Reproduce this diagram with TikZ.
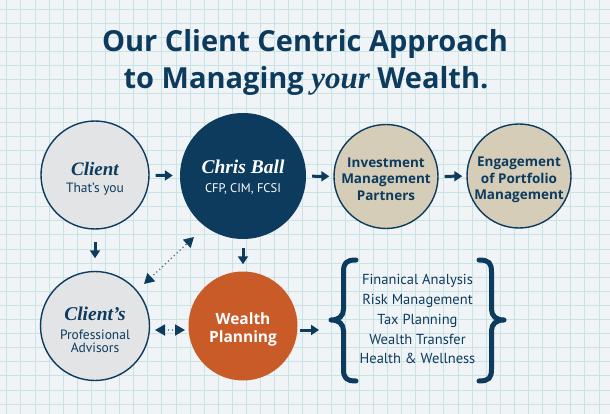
\documentclass[tikz,border=0pt]{standalone}
\usepackage{fontspec}
\setmainfont{PT Sans}
\newfontfamily\serifbi{Liberation Serif}
\newfontfamily\boldsans{Open Sans}
\usetikzlibrary{arrows.meta,calc}
\definecolor{navy}{HTML}{0D3B5E}
\definecolor{bgc}{HTML}{F1F4F6}
\definecolor{gridc}{HTML}{C8E3E4}
\definecolor{lgray}{HTML}{E3E4E5}
\definecolor{tanc}{HTML}{D5CDB7}
\definecolor{orng}{HTML}{C95B29}
\definecolor{dotc}{HTML}{56768C}
\tikzset{
  circ/.style={circle, inner sep=0pt, minimum size=#1},
  lightc/.style={circ=#1, draw=navy, line width=1.4pt, fill=lgray},
  tanball/.style={circ=#1, draw=navy, line width=1.4pt, fill=tanc},
  sertxt/.style={anchor=base, inner sep=0pt, font=\serifbi\bfseries\itshape\fontsize{#1}{#1}\selectfont},
  santxt/.style={anchor=base, inner sep=0pt, font=\fontsize{#1}{#1}\selectfont},
  boldtxt/.style={anchor=base, inner sep=0pt, font=\boldsans\bfseries\fontsize{#1}{#1}\selectfont},
  arr/.style={navy, line width=3pt, -{Triangle[length=8pt,width=10pt]}},
  dotarr/.style={dotc, line width=1.8pt, line cap=round, dash pattern=on 0pt off 4pt,
    {Triangle[length=10pt,width=11pt,color=navy]}-{Triangle[length=10pt,width=11pt,color=navy]}},
  bracestyle/.style={navy, line width=5pt, line cap=round, line join=round}
}
\begin{document}
\begin{tikzpicture}[x=1pt,y=-1pt]
\fill[bgc] (0,0) rectangle (610,414);
\useasboundingbox (0,0) rectangle (610,414);
\foreach \i in {0,...,43} \draw[gridc, line width=0.9pt] ({6.8+14.1*\i},0) -- ++(0,414);
\foreach \j in {0,...,29} \draw[gridc, line width=0.9pt] (0,{9.3+14.1*\j}) -- ++(610,0);

% title
\node[boldtxt=29, text=navy, anchor=base] (title1) at (305,51.5) {Our Client Centric Approach};
\node[boldtxt=29, text=navy, anchor=base] (title2) at (306,88.3) {to Managing {\serifbi\bfseries\itshape\fontsize{31}{31}\selectfont your} Wealth.};

% circles
\node[lightc=108] (client) at (95,175) {};
\node[circ=126, fill=navy] (chris) at (243,176) {};
\node[tanball=104] (inv) at (386,176.5) {};
\node[tanball=104] (eng) at (519,176) {};
\node[lightc=109] (adv) at (95,326) {};
\node[circ=109, fill=orng] (wp) at (243,326) {};

% texts
\node[sertxt=19, text=navy] (clientA) at ($(client)+(0,1)$) {Client};
\node[santxt=13.5, text=navy] (clientB) at ($(client)+(0,18)$) {That’s you};
\node[sertxt=19.5, text=white] (chrisA) at ($(chris)+(0,-2.7)$) {Chris Ball};
\node[santxt=12.5, text=white] (chrisB) at ($(chris)+(0,16.7)$) {CFP, CIM, FCSI};
\node[boldtxt=13.5, text=navy] (invA) at ($(inv)+(0,-9.2)$) {Investment};
\node[boldtxt=13.5, text=navy] (invB) at ($(inv)+(0,7.5)$) {Management};
\node[boldtxt=13.5, text=navy] (invC) at ($(inv)+(0,24.2)$) {Partners};
\node[boldtxt=13.5, text=navy] (engA) at ($(eng)+(0,-9.3)$) {Engagement};
\node[boldtxt=13.5, text=navy] (engB) at ($(eng)+(0,7.3)$) {of Portfolio};
\node[boldtxt=13.5, text=navy] (engC) at ($(eng)+(0,24)$) {Management};
\node[sertxt=19.5, text=navy] (advA) at ($(adv)+(0,-5.3)$) {Client’s};
\node[santxt=13.5, text=navy] (advB) at ($(adv)+(0,13.3)$) {Professional};
\node[santxt=13.5, text=navy] (advC) at ($(adv)+(0,26.7)$) {Advisors};
\node[boldtxt=15.5, text=white] (wpA) at ($(wp)+(0,-2)$) {Wealth};
\node[boldtxt=15.5, text=white] (wpB) at ($(wp)+(0,16.7)$) {Planning};

% list
\node[santxt=14.5, text=navy] (l1) at (417.5,284.3) {Finanical Analysis};
\node[santxt=14.5, text=navy] (l2) at (417.5,304.2) {Risk Management};
\node[santxt=14.5, text=navy] (l3) at (417.5,324.1) {Tax Planning};
\node[santxt=14.5, text=navy] (l4) at (417.5,344) {Wealth Transfer};
\node[santxt=14.5, text=navy] (l5) at (417.5,363.6) {Health \& Wellness};

% braces
\draw[bracestyle] (356,260) .. controls (346,260) and (343.5,263) .. (343.5,272)
  -- (343.5,309) .. controls (343.5,316) and (339,320) .. (331,320)
  .. controls (339,320) and (343.5,324) .. (343.5,331)
  -- (343.5,369) .. controls (343.5,378) and (346,381) .. (356,381);
\draw[bracestyle] (479,260) .. controls (489,260) and (491.5,263) .. (491.5,272)
  -- (491.5,309) .. controls (491.5,316) and (496,320) .. (504,320)
  .. controls (496,320) and (491.5,324) .. (491.5,331)
  -- (491.5,369) .. controls (491.5,378) and (489,381) .. (479,381);
\coordinate (bracein) at (319,330);

% arrows
\draw[arr, shorten <=6pt, shorten >=7pt] (client) -- (chris);
\draw[arr, shorten <=6pt, shorten >=4pt] (chris) -- (inv);
\draw[arr, shorten <=6pt, shorten >=4pt] (inv) -- (eng);
\draw[arr, shorten <=12.5pt, shorten >=12.5pt] (client) -- (adv);
\draw[arr, shorten <=9pt, shorten >=7pt] (chris) -- (wp);
\coordinate (wpout) at (297,330);
\draw[arr, shorten <=3pt] (wpout) -- (bracein);

% dotted arrows
\coordinate (d1) at ($(adv)+(49,-42)$);
\coordinate (d2) at ($(chris)+(-49,61)$);
\draw[dotarr] (d1) -- (d2);
\coordinate (h1) at (155,330);
\coordinate (h2) at (185,330);
\draw[dotarr] (h1) -- (h2);
\end{tikzpicture}
\end{document}
